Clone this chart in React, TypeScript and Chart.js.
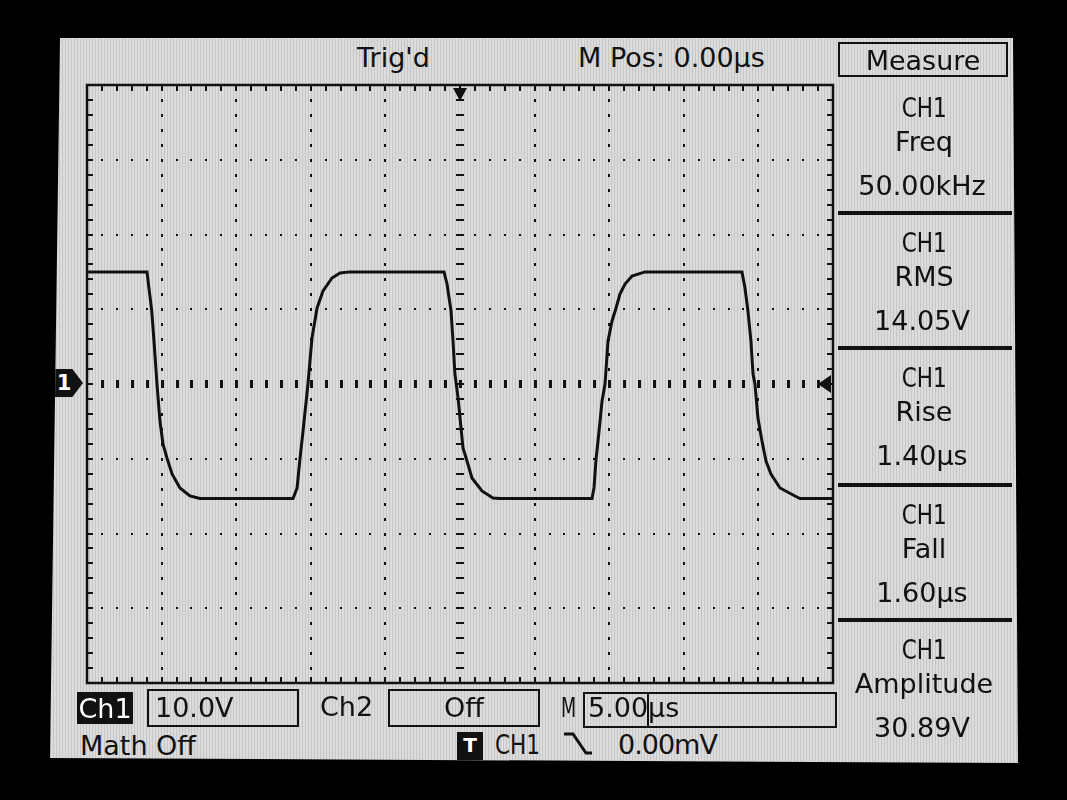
import React, { useEffect, useRef } from "react";
import { Chart, registerables } from "chart.js";
Chart.register(...registerables);

// ---- data (time in µs, CH1 voltage in V) ----
const timeUs = [
  -25, -20.98, -20.66, -20.51, -20.31, -20.11, -19.91, -19.64, -19.3, -18.77, -18.1, -17.43, -11.19,
  -10.92, -10.72, -10.52, -10.19, -9.92, -9.58, -9.18, -8.58, -8.04, -7.37,
  -1.07,
  -0.87, -0.6, -0.47, -0.34, -0.13, 0.07, 0.2, 0.47, 0.8, 1.47, 2.21, 2.68,
  8.85,
  8.98, 9.12, 9.32, 9.52, 9.72, 9.92, 10.19, 10.46, 10.72, 11.06, 11.53, 12.4,
  18.9,
  19.1, 19.3, 19.5, 19.64, 19.77, 19.97, 20.24, 20.51, 20.84, 21.45, 22.45, 22.79,
  25,
];
const voltsV = [
  15.0, 15.0, 9.77, 5.75, 0, -4.95, -8.03, -9.9, -12.04, -13.91, -14.98, -15.32, -15.32,
  -13.91, -9.9, -6.29, 0, 6.15, 10.17, 12.44, 14.18, 14.85, 15.0,
  15.0,
  13.38, 9.77, 5.75, 1.34, -1.87, -5.89, -8.56, -10.3, -12.58, -14.31, -15.25, -15.32,
  -15.32,
  -13.91, -10.03, -6.29, -2.27, 0, 5.75, 8.43, 10.17, 12.04, 13.38, 14.45, 15.0,
  15.0,
  12.84, 9.77, 5.75, 1.34, 0, -4.55, -7.63, -10.3, -12.04, -13.91, -14.98, -15.32,
  -15.32,
];
const xMajorTicks = [-25, -20, -15, -10, -5, 0, 5, 10, 15, 20, 25];
const yMajorTicks = [-40, -30, -20, -10, 0, 10, 20, 30, 40];
const minorPerDiv = 5;

const measureTitles = ["Freq", "RMS", "Rise", "Fall", "Amplitude"];
const measureValues = ["50.00kHz", "14.05V", "1.40µs", "1.60µs", "30.89V"];

const INK = "#111";

function minorPositions(ticks: number[]): number[] {
  const out: number[] = [];
  for (let i = 0; i < ticks.length - 1; i++) {
    const a = ticks[i];
    const b = ticks[i + 1];
    for (let k = 0; k < minorPerDiv; k++) out.push(a + ((b - a) * k) / minorPerDiv);
  }
  out.push(ticks[ticks.length - 1]);
  return out;
}

const scopeGrid = {
  id: "scopeGrid",
  beforeDatasetsDraw(chart: any) {
    const { ctx, chartArea, scales } = chart;
    const { left, right, top, bottom } = chartArea;
    const sx = scales.x;
    const sy = scales.y;
    const xs = minorPositions(xMajorTicks).map((v) => sx.getPixelForValue(v));
    const ys = minorPositions(yMajorTicks).map((v) => sy.getPixelForValue(v));
    const mx = xMajorTicks.map((v) => sx.getPixelForValue(v));
    const my = yMajorTicks.map((v) => sy.getPixelForValue(v));
    const x0 = sx.getPixelForValue(0);
    const y0 = sy.getPixelForValue(0);
    ctx.save();
    ctx.fillStyle = INK;
    mx.slice(1, -1).forEach((px: number) => {
      if (Math.abs(px - x0) < 1) return;
      ys.slice(1, -1).forEach((py: number) => ctx.fillRect(Math.round(px) - 1, Math.round(py) - 1, 2, 3));
    });
    my.slice(1, -1).forEach((py: number) => {
      if (Math.abs(py - y0) < 1) return;
      xs.slice(1, -1).forEach((px: number) => ctx.fillRect(Math.round(px) - 1, Math.round(py) - 1, 2, 2));
    });
    ys.slice(1, -1).forEach((py: number) => ctx.fillRect(Math.round(x0) - 4, Math.round(py) - 1, 8, 2));
    xs.slice(1, -1).forEach((px: number) => ctx.fillRect(Math.round(px) - 1, Math.round(y0) - 4, 3, 8));
    xs.forEach((px: number) => {
      ctx.fillRect(Math.round(px) - 1, top, 2, 6);
      ctx.fillRect(Math.round(px) - 1, bottom - 6, 2, 6);
    });
    ys.forEach((py: number) => {
      ctx.fillRect(left, Math.round(py) - 1, 6, 2);
      ctx.fillRect(right - 6, Math.round(py) - 1, 6, 2);
    });
    ctx.restore();
  },
  afterDatasetsDraw(chart: any) {
    const { ctx, chartArea, scales } = chart;
    const { left, right, top, bottom } = chartArea;
    const x0 = scales.x.getPixelForValue(0);
    const y0 = scales.y.getPixelForValue(0);
    ctx.save();
    ctx.strokeStyle = INK;
    ctx.lineWidth = 2.5;
    ctx.strokeRect(left, top, right - left, bottom - top);
    ctx.fillStyle = INK;
    ctx.beginPath();
    ctx.moveTo(x0 - 7, top + 3);
    ctx.lineTo(x0 + 7, top + 3);
    ctx.lineTo(x0, top + 16);
    ctx.closePath();
    ctx.fill();
    ctx.beginPath();
    ctx.moveTo(right - 2, y0 - 9);
    ctx.lineTo(right - 2, y0 + 9);
    ctx.lineTo(right - 15, y0);
    ctx.closePath();
    ctx.fill();
    ctx.restore();
  },
};

const font = "'DejaVu Sans', 'Liberation Sans', sans-serif";

const txt = (extra: React.CSSProperties): React.CSSProperties => ({
  position: "absolute",
  fontFamily: font,
  fontSize: 27,
  lineHeight: "27px",
  color: INK,
  whiteSpace: "nowrap",
  ...extra,
});

const boxStyle = (l: number, t: number, w: number, h: number): React.CSSProperties => ({
  position: "absolute",
  left: l,
  top: t,
  width: w,
  height: h,
  border: `2px solid ${INK}`,
  boxSizing: "border-box",
});

const narrow = (s: string, origin = "center", k = 0.8) => (
  <span style={{ display: "inline-block", transform: `scaleX(${k})`, transformOrigin: origin }}>{s}</span>
);

export default function App() {
  const ref = useRef<HTMLCanvasElement | null>(null);

  useEffect(() => {
    if (!ref.current) return;
    const chart = new Chart(ref.current, {
      type: "line",
      data: {
        datasets: [
          {
            data: timeUs.map((t, i) => ({ x: t, y: voltsV[i] })),
            borderColor: INK,
            borderWidth: 3,
            pointRadius: 0,
            tension: 0,
            fill: false,
          },
        ],
      },
      options: {
        animation: false,
        responsive: false,
        devicePixelRatio: 1,
        layout: { padding: 10 },
        scales: {
          x: { type: "linear", min: -25, max: 25, display: false },
          y: { type: "linear", min: -40, max: 40, display: false },
        },
        plugins: { legend: { display: false }, tooltip: { enabled: false } },
      },
      plugins: [scopeGrid],
    });
    return () => chart.destroy();
  }, []);

  const sepTops = [211, 346, 483, 618];
  const sectionTops = [80, 215, 350, 487, 622];

  return (
    <div style={{ position: "fixed", left: 0, top: 0, width: 1067, height: 800, background: "#000", overflow: "hidden" }}>
      <div
        style={{
          position: "absolute",
          left: 0,
          top: 0,
          width: 1067,
          height: 800,
          clipPath: "polygon(60px 38px, 1013px 38px, 1018px 763px, 50px 758px)",
          background: "repeating-linear-gradient(90deg, #dcdcdc 0px, #dcdcdc 2px, #c6c6c6 2px, #c6c6c6 3px)",
        }}
      >
        <canvas ref={ref} width={766} height={618} style={{ position: "absolute", left: 77, top: 75, width: 766, height: 618 }} />

        <div style={txt({ left: 357, top: 44 })}>Trig'd</div>
        <div style={txt({ left: 578, top: 44 })}>M Pos: 0.00µs</div>

        <div
          style={{
            position: "absolute",
            left: 55,
            top: 369,
            width: 28,
            height: 28,
            background: INK,
            clipPath: "polygon(0 0, 62% 0, 100% 50%, 62% 100%, 0 100%)",
          }}
        >
          <div style={{ position: "absolute", left: 0, top: 2, width: 18, textAlign: "center", color: "#fff", fontFamily: font, fontWeight: "bold", fontSize: 21, lineHeight: "24px" }}>1</div>
        </div>

        <div style={boxStyle(838, 42, 170, 35)} />
        <div style={txt({ left: 838, width: 170, top: 47, textAlign: "center" })}>Measure</div>
        {sepTops.map((t, i) => (
          <div key={"s" + i} style={{ position: "absolute", left: 838, top: t, width: 174, height: 4, background: INK }} />
        ))}
        {sectionTops.map((t, i) => (
          <React.Fragment key={"m" + i}>
            <div style={txt({ left: 838, width: 172, top: t + 14, textAlign: "center" })}>{narrow("CH1")}</div>
            <div style={txt({ left: 838, width: 172, top: t + 48, textAlign: "center" })}>{measureTitles[i]}</div>
            <div style={txt({ left: 836, width: 172, top: t + 92, textAlign: "center" })}>{measureValues[i]}</div>
          </React.Fragment>
        ))}

        <div style={{ position: "absolute", left: 77, top: 692, width: 56, height: 32, background: INK }} />
        <div style={txt({ left: 77, width: 56, top: 695, textAlign: "center", color: "#fff" })}>Ch1</div>
        <div style={boxStyle(147, 689, 152, 38)} />
        <div style={txt({ left: 155, top: 694 })}>10.0V</div>
        <div style={txt({ left: 320, top: 693 })}>Ch2</div>
        <div style={boxStyle(388, 689, 152, 38)} />
        <div style={txt({ left: 388, width: 152, top: 694, textAlign: "center" })}>Off</div>
        <div style={txt({ left: 561, top: 694 })}>{narrow("M", "left", 0.65)}</div>
        <div style={boxStyle(583, 692, 254, 36)} />
        <div style={{ position: "absolute", left: 583, top: 692, width: 66, height: 36, borderRight: `2px solid ${INK}`, boxSizing: "border-box" }} />
        <div style={txt({ left: 588, top: 694 })}>5.00µs</div>
        <div style={txt({ left: 80, top: 732 })}>Math Off</div>
        <div style={{ position: "absolute", left: 457, top: 732, width: 26, height: 28, background: INK }} />
        <div style={{ position: "absolute", left: 457, top: 734, width: 26, textAlign: "center", color: "#fff", fontFamily: font, fontWeight: "bold", fontSize: 20, lineHeight: "22px" }}>T</div>
        <div style={txt({ left: 495, top: 731 })}>{narrow("CH1", "left")}</div>
        <svg style={{ position: "absolute", left: 560, top: 728, width: 40, height: 32 }} width={40} height={32}>
          <polyline points="4,6 13,6 26,25 32,25" fill="none" stroke={INK} strokeWidth={3} />
        </svg>
        <div style={txt({ left: 618, top: 731, letterSpacing: -1 })}>0.00mV</div>
      </div>
    </div>
  );
}
